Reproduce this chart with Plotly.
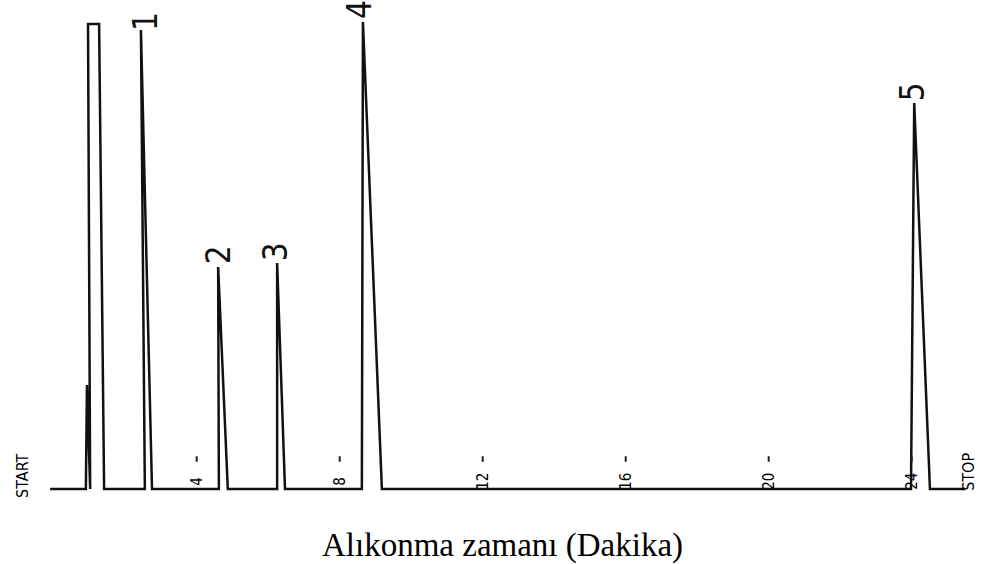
import plotly.graph_objects as go

# Chromatogram: retention time (min) vs. detector signal (arbitrary units)

# Solvent front (detector saturated, flat top)
solvent_time = [-0.10, 0.90, 0.93, 1.02, 0.96, 1.27, 1.41]
solvent_signal = [0, 0, 104, 0, 465, 465, 0]

# Numbered analyte peaks
peak_labels = ["1", "2", "3", "4", "5"]
peak_start = [2.55, 4.62, 6.25, 8.62, 23.98]
peak_rt = [2.44, 4.60, 6.25, 8.65, 24.07]
peak_end = [2.75, 4.87, 6.47, 9.18, 24.51]
peak_height = [459, 222, 226, 467, 386]
run_end = 25.49

# Recorder time marks
tick_times = [4, 8, 12, 16, 20, 24]
tick_labels = ["4", "8", "12", "16", "20", "24"]

# Assemble the continuous detector trace
trace_t = list(solvent_time)
trace_s = list(solvent_signal)
for s, r, e, h in zip(peak_start, peak_rt, peak_end, peak_height):
    trace_t += [s, r, e]
    trace_s += [0, h, 0]
trace_t.append(run_end)
trace_s.append(0)

fig = go.Figure()
fig.add_trace(go.Scatter(
    x=trace_t, y=trace_s, mode="lines",
    line=dict(color="#111111", width=2.5),
    hoverinfo="skip", showlegend=False,
))

# Small time marks above the baseline
fig.add_trace(go.Scatter(
    x=tick_times, y=[30] * len(tick_times), mode="markers",
    marker=dict(symbol="line-ns", size=4, line=dict(color="#222222", width=2)),
    hoverinfo="skip", showlegend=False,
))

plotter_font = "Liberation Sans Narrow, DejaVu Sans Condensed, sans-serif"
annotations = []
shifts = [(4, 9), (0, 12), (-2, 11), (-4, 13), (-2, 11)]
for lab, r, h, (dx, dy) in zip(peak_labels, peak_rt, peak_height, shifts):
    annotations.append(dict(
        x=r, y=h, text=lab, showarrow=False, textangle=-90,
        xanchor="center", yanchor="middle", xshift=dx, yshift=dy,
        font=dict(family=plotter_font, size=33, color="#111111"),
    ))
for t, lab in zip(tick_times, tick_labels):
    annotations.append(dict(
        x=t, y=8, text=lab, showarrow=False, textangle=-90,
        xanchor="center", yanchor="middle",
        font=dict(family=plotter_font, size=15, color="#000000"),
    ))
annotations.append(dict(
    x=-0.89, y=13, text="START", showarrow=False, textangle=-90,
    xanchor="center", yanchor="middle",
    font=dict(family=plotter_font, size=16, color="#000000"),
))
annotations.append(dict(
    x=25.57, y=17, text="STOP", showarrow=False, textangle=-90,
    xanchor="center", yanchor="middle",
    font=dict(family=plotter_font, size=16, color="#000000"),
))
annotations.append(dict(
    x=0.5117, y=0.032, xref="paper", yref="paper",
    text="Alıkonma zamanı (Dakika)", showarrow=False,
    xanchor="center", yanchor="middle",
    font=dict(family="Liberation Serif, Times New Roman, serif", size=33, color="#000000"),
))

fig.update_layout(
    width=982, height=564,
    margin=dict(l=0, r=0, t=0, b=0),
    paper_bgcolor="white", plot_bgcolor="white",
    xaxis=dict(range=[-1.502, 25.966], visible=False, fixedrange=True),
    yaxis=dict(range=[-75, 489], visible=False, fixedrange=True),
    annotations=annotations,
)

fig.write_html("out.html")
